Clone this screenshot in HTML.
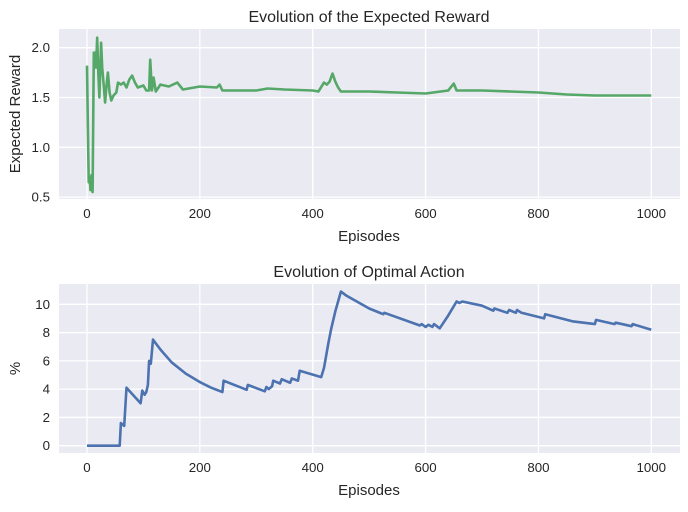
<!DOCTYPE html>
<html><head><meta charset="utf-8"><style>
body{margin:0;background:#fff;}
svg text{font-family:"Liberation Sans",Arial,sans-serif;fill:#262626;}
</style></head><body>
<svg id="chart" width="688" height="507" xmlns="http://www.w3.org/2000/svg"></svg>
<script>
const xTicks=[0,200,400,600,800,1000];
const rewardTicks=[0.5,1.0,1.5,2.0];
const actionTicks=[0,2,4,6,8,10];
const rewardEpisodes=[0,3,5,6,8,10,12,14,16,18,20,22,25,27,30,32,35,37,40,43,47,52,55,60,65,70,75,80,85,90,100,105,110,112,115,118,122,130,145,160,170,200,230,235,240,300,320,350,400,410,420,425,430,435,440,445,450,500,550,600,640,650,655,700,750,800,850,900,1000];
const rewardValues=[1.82,0.65,0.7,0.57,0.72,0.55,1.95,1.95,1.8,2.1,1.75,1.5,2.05,1.8,1.6,1.45,1.65,1.75,1.55,1.47,1.52,1.55,1.65,1.63,1.65,1.6,1.68,1.72,1.65,1.6,1.62,1.57,1.57,1.88,1.57,1.7,1.56,1.63,1.61,1.65,1.58,1.61,1.6,1.63,1.57,1.57,1.59,1.58,1.57,1.56,1.65,1.63,1.66,1.74,1.66,1.6,1.56,1.56,1.55,1.54,1.57,1.64,1.57,1.57,1.56,1.55,1.53,1.52,1.52];
const actionEpisodes=[0,58,60,66,70,95,98,102,105,108,110,113,117,130,150,175,200,220,240,242,283,285,315,318,322,328,330,342,345,360,363,374,377,415,420,428,433,440,450,460,500,525,527,590,593,600,605,612,615,625,640,655,660,665,700,720,722,745,748,760,762,770,810,812,860,900,902,935,937,965,967,1000];
const actionValues=[0,0,1.6,1.4,4.1,3.0,3.9,3.6,3.8,4.3,6.0,5.8,7.5,6.8,5.9,5.1,4.5,4.1,3.8,4.6,3.95,4.3,3.85,4.15,4.0,4.2,4.6,4.4,4.7,4.45,4.75,4.6,5.3,4.85,5.5,7.3,8.3,9.5,10.9,10.6,9.7,9.3,9.4,8.5,8.6,8.4,8.55,8.4,8.6,8.3,9.2,10.2,10.1,10.2,9.9,9.55,9.7,9.4,9.6,9.4,9.6,9.4,9.0,9.3,8.8,8.6,8.9,8.6,8.7,8.45,8.6,8.2];

const NS="http://www.w3.org/2000/svg";
const svg=document.getElementById('chart');
function mk(tag,attrs,parent){const e=document.createElementNS(NS,tag);for(const k in attrs)e.setAttribute(k,attrs[k]);(parent||svg).appendChild(e);return e;}
const xScale=v=>87+v*0.5643;

function panel(name,top,bottom,yScale,yTicks,fmt,xs,ys,color,title,ylabel){
  const g=mk('g',{});
  
  
  const bg=mk('rect',{x:59,y:top,width:621,height:bottom-top,fill:'#EAEAF2'},g);
  
  
  xTicks.forEach(t=>{
    const x=xScale(t);
    mk('line',{x1:x,x2:x,y1:top,y2:bottom,stroke:'#fff','stroke-width':1.3},g);
    const tx=mk('text',{x:x,y:bottom+19,'font-size':13.3,'text-anchor':'middle'},g);
    tx.textContent=t;
    
    
  });
  yTicks.forEach(t=>{
    const y=yScale(t);
    mk('line',{x1:59,x2:680,y1:y,y2:y,stroke:'#fff','stroke-width':1.3},g);
    const tx=mk('text',{x:50,y:y+4.5,'font-size':13.3,'text-anchor':'end'},g);
    tx.textContent=fmt(t);
    
    
  });
  const d=xs.map((v,i)=>(i?'L':'M')+xScale(v).toFixed(1)+','+yScale(ys[i]).toFixed(1)).join(' ');
  const p=mk('path',{d:d,fill:'none',stroke:color,'stroke-width':2.6,'stroke-linejoin':'round'},g);
  
  
  const tt=mk('text',{x:369,y:top-7,'font-size':16,'text-anchor':'middle'},g);
  tt.textContent=title;
  
  
  const xl=mk('text',{x:369,y:bottom+42,'font-size':15,'text-anchor':'middle'},g);
  xl.textContent='Episodes';
  
  
  const cy=(top+bottom)/2;
  const yl=mk('text',{x:20,y:cy,'font-size':15,'text-anchor':'middle',transform:'rotate(-90 20 '+cy+')'},g);
  yl.textContent=ylabel;
  
  
}
panel('reward-panel',29,199,v=>147.3-(v-1)*99.6,rewardTicks,t=>t.toFixed(1),rewardEpisodes,rewardValues,'#55A868','Evolution of the Expected Reward','Expected Reward');
panel('action-panel',284,453,v=>445.7-v*14.14,actionTicks,t=>String(t),actionEpisodes,actionValues,'#4C72B0','Evolution of Optimal Action','%');
</script>
</body></html>
